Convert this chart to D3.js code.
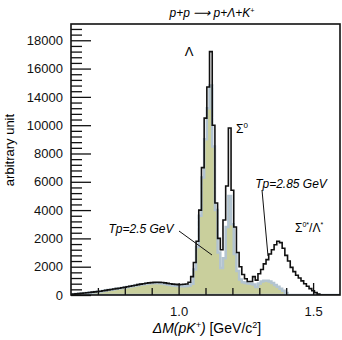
<!DOCTYPE html>
<html>
<head>
<meta charset="utf-8">
<script src="https://cdn.jsdelivr.net/npm/d3@7"></script>
<style>
  body { margin: 0; background: #fff; }
  svg { display: block; font-family: "Liberation Sans", Arial, Helvetica, sans-serif; }
</style>
</head>
<body>
<div id="chart"></div>
<script>
// histogram bins: 0.01 GeV wide, first bin starts at 0.595
const binStart = 0.595;
const binWidth = 0.01;

// Tp = 2.85 GeV (black outline)
const tp285 = [
  40, 60, 80, 100, 120, 140, 160, 180, 200, 220,
  245, 270, 300, 330, 360, 390, 420, 450, 480, 510,
  545, 580, 615, 650, 690, 730, 770, 800, 830, 855,
  875, 890, 900, 895, 880, 855, 825, 795, 770, 750,
  735, 740, 755, 780, 900, 1300, 2300, 3800, 6000, 9000,
  12500, 14700, 17200, 12000, 6500, 4000, 3200, 5300, 7700, 11800,
  7400, 4800, 3000, 2000, 1450, 1150, 950, 950, 1300, 1050,
  1500, 1800, 2200, 2500, 2900, 3200, 3550, 3800, 3700, 3300,
  2800, 2400, 1950, 1650, 1400, 1200, 1000, 800, 620, 450,
  300, 170, 60, 0, 0, 0, 0, 0, 0, 0, 0
];

// Tp = 2.5 GeV (filled)
const tp25 = [
  30, 50, 70, 90, 110, 130, 150, 170, 190, 210,
  230, 255, 285, 315, 345, 375, 405, 435, 465, 495,
  525, 560, 595, 630, 665, 700, 735, 765, 790, 810,
  825, 835, 840, 830, 810, 780, 745, 710, 680, 650,
  630, 620, 620, 640, 680, 800, 1800, 3400, 5600, 8300,
  11000, 13200, 14800, 10500, 6000, 3000, 1900, 2600, 4800, 7000,
  5000, 2900, 1700, 1100, 900, 850, 820, 800, 750, 560,
  820, 950, 1000, 1000, 950, 850, 700, 580, 450, 300,
  150, 0, 0, 0, 0, 0, 0, 0, 0, 0,
  0, 0, 0, 0, 0, 0, 0, 0, 0, 0, 0
];

const yTicks = [0, 2000, 4000, 6000, 8000, 10000, 12000, 14000, 16000, 18000];
const yTickLabels = ["0", "2000", "2000", "4000", "6000", "8000", "10000", "14000", "16000", "18000"];
const xMinorTicks = [0.7, 0.8, 0.9, 1.1, 1.2, 1.3, 1.4];
const xMajorTicks = [1.0, 1.5];
const xTickLabels = ["1.0", "1.5"];

const width = 342, height = 340;
const plotLeft = 71, plotRight = 340, plotTop = 24, plotBottom = 295;

const svg = d3.select('#chart')
  .append('svg')
  .attr('width', width)
  .attr('height', height);

const x = d3.scaleLinear().domain([0.6, 1.6]).range([plotLeft, plotRight]);
const y = d3.scaleLinear().domain([0, 19150]).range([plotBottom, plotTop]);

svg.append('clipPath').attr('id', 'plot')
  .append('rect')
  .attr('x', plotLeft).attr('y', plotTop)
  .attr('width', plotRight - plotLeft).attr('height', plotBottom - plotTop);

function steps(values) {
  const pts = values.map((v, i) => [binStart + i * binWidth, v]);
  pts.push([binStart + values.length * binWidth, values[values.length - 1]]);
  return pts;
}

const g = svg.append('g').attr('clip-path', 'url(#plot)');

g.append('path')
  .datum(steps(tp25))
  .attr('fill', '#c9cf9c')
  .attr('stroke', '#b3c4d0')
  .attr('stroke-width', 2.5)
  .attr('d', d3.area()
    .curve(d3.curveStepAfter)
    .x(d => x(d[0]))
    .y0(y(0))
    .y1(d => y(d[1])));

g.append('path')
  .datum(steps(tp285))
  .attr('fill', 'none')
  .attr('stroke', '#111')
  .attr('stroke-width', 1.6)
  .attr('d', d3.line()
    .curve(d3.curveStepAfter)
    .x(d => x(d[0]))
    .y(d => y(d[1])));

// y axis: ticks point into the plot
const yMinor = d3.range(400, 19000, 400).filter(v => v % 2000 !== 0);
svg.append('g')
  .attr('transform', `translate(${plotLeft},0)`)
  .call(d3.axisLeft(y).tickValues(yMinor).tickSize(-11).tickFormat(''))
  .call(a => a.select('.domain').remove());
svg.append('g')
  .attr('transform', `translate(${plotLeft},0)`)
  .call(d3.axisLeft(y).tickValues(yTicks).tickSize(-20).tickPadding(8)
    .tickFormat((d, i) => yTickLabels[i]))
  .call(a => a.select('.domain').remove())
  .call(a => a.selectAll('text').attr('font-size', 13).attr('fill', '#111'))
  .attr('font-family', null);

// x axis
svg.append('g')
  .attr('transform', `translate(0,${plotBottom})`)
  .call(d3.axisBottom(x).tickValues(xMinorTicks).tickSize(-7).tickFormat(''))
  .call(a => a.select('.domain').remove());
svg.append('g')
  .attr('transform', `translate(0,${plotBottom})`)
  .call(d3.axisBottom(x).tickValues(xMajorTicks).tickSize(-12).tickPadding(12)
    .tickFormat((d, i) => xTickLabels[i]))
  .call(a => a.select('.domain').remove())
  .call(a => a.selectAll('text').attr('font-size', 13).attr('fill', '#111'))
  .attr('font-family', null);

svg.selectAll('.tick line').attr('stroke', '#111').attr('stroke-width', 1.3);

// frame
svg.append('rect')
  .attr('x', plotLeft).attr('y', plotTop)
  .attr('width', plotRight - plotLeft).attr('height', plotBottom - plotTop)
  .attr('fill', 'none')
  .attr('stroke', '#111')
  .attr('stroke-width', 1.6);

// title
const title = svg.append('text')
  .attr('x', 212).attr('y', 17)
  .attr('text-anchor', 'middle')
  .attr('font-size', 12)
  .attr('font-style', 'italic');
title.append('tspan').text('p+p \u27F6 p+\u039B+K');
title.append('tspan').attr('font-size', 7).attr('dy', -4).text('+');

// axis titles
svg.append('text')
  .attr('transform', 'translate(14,150) rotate(-90)')
  .attr('text-anchor', 'middle')
  .attr('font-size', 13)
  .text('arbitrary unit');

const xt = svg.append('text')
  .attr('x', 207).attr('y', 333)
  .attr('text-anchor', 'middle')
  .attr('font-size', 14);
xt.append('tspan').attr('font-style', 'italic').text('\u0394M(pK');
xt.append('tspan').attr('font-style', 'italic').attr('font-size', 9).attr('dy', -5).text('+');
xt.append('tspan').attr('font-style', 'italic').attr('dy', 5).text(')');
xt.append('tspan').text(' [GeV/c');
xt.append('tspan').attr('font-size', 9).attr('dy', -5).text('2');
xt.append('tspan').attr('dy', 5).text(']');

// peak labels
svg.append('text').attr('x', 189).attr('y', 56).attr('text-anchor', 'middle')
  .attr('font-size', 13).text('\u039B');

const s0 = svg.append('text').attr('x', 236).attr('y', 133).attr('font-size', 12);
s0.append('tspan').text('\u03A3');
s0.append('tspan').attr('font-size', 8).attr('dy', -5).text('0');

const sl = svg.append('text').attr('x', 295).attr('y', 232).attr('font-size', 12);
sl.append('tspan').text('\u03A3');
sl.append('tspan').attr('font-size', 7).attr('dy', -5).text('0*');
sl.append('tspan').attr('dy', 5).text('/\u039B');
sl.append('tspan').attr('font-size', 7).attr('dy', -5).text('*');

// Tp labels with leader lines
svg.append('text').attr('x', 291).attr('y', 188).attr('text-anchor', 'middle')
  .attr('font-size', 12).attr('font-style', 'italic').text('Tp=2.85 GeV');
svg.append('line')
  .attr('x1', 262).attr('y1', 190).attr('x2', 268).attr('y2', 256)
  .attr('stroke', '#111').attr('stroke-width', 1);

svg.append('text').attr('x', 141).attr('y', 233).attr('text-anchor', 'middle')
  .attr('font-size', 12).attr('font-style', 'italic').text('Tp=2.5 GeV');
svg.append('line')
  .attr('x1', 179).attr('y1', 231).attr('x2', 212).attr('y2', 255)
  .attr('stroke', '#111').attr('stroke-width', 1);
</script>
</body>
</html>
